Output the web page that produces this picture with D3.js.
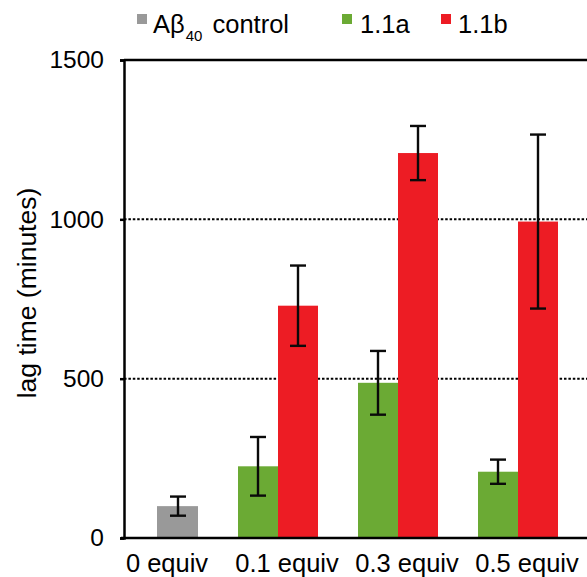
<!DOCTYPE html>
<html>
<head>
<meta charset="utf-8">
<script src="https://cdn.jsdelivr.net/npm/d3@7"></script>
<style>
  html, body { margin: 0; padding: 0; background: #fff; }
  svg { display: block; font-family: "Liberation Sans", Arial, Helvetica, sans-serif; }
</style>
</head>
<body>
<svg id="chart" width="587" height="577"></svg>
<script>
// Lag time of Aβ40 aggregation with increasing equivalents of 1.1a / 1.1b
const categories = ["0 equiv", "0.1 equiv", "0.3 equiv", "0.5 equiv"];
const controlMean = [100, null, null, null];
const controlErr  = [30, null, null, null];
const seriesAMean = [null, 225, 487, 208];
const seriesAErr  = [null, 92, 100, 38];
const seriesBMean = [null, 729, 1208, 993];
const seriesBErr  = [null, 126, 85, 273];
const yTicks = [0, 500, 1000, 1500];
const gridValues = [500, 1000];

const colors = { control: "#999999", a: "#6BAA34", b: "#ED1C24" };

const svg = d3.select("#chart");
const W = 587;

const y = d3.scaleLinear().domain([0, 1500]).range([538, 60]);
const x = d3.scaleBand().domain(categories).range([107, 587]).padding(0);
// two slots per group; the control bar occupies the second slot
const slot = d3.scaleBand().domain(["a", "b"]).range([11, 91]);

const axisX = 124;

// dotted gridlines
svg.append("g").selectAll("line").data(gridValues).join("line")
  .attr("x1", axisX).attr("x2", W)
  .attr("y1", d => y(d)).attr("y2", d => y(d))
  .attr("stroke", "#000").attr("stroke-width", 2)
  .attr("stroke-dasharray", "2.5,1.9");

// bars
const bars = [];
categories.forEach((c, i) => {
  if (controlMean[i] != null) bars.push({ cat: c, key: "b", v: controlMean[i], e: controlErr[i], color: colors.control, w: 1 });
  if (seriesAMean[i] != null) bars.push({ cat: c, key: "a", v: seriesAMean[i], e: seriesAErr[i], color: colors.a, w: 0 });
  if (seriesBMean[i] != null) bars.push({ cat: c, key: "b", v: seriesBMean[i], e: seriesBErr[i], color: colors.b, w: 0 });
});

svg.append("g").selectAll("rect").data(bars).join("rect")
  .attr("x", d => x(d.cat) + slot(d.key) - d.w)
  .attr("width", d => slot.bandwidth() + d.w)
  .attr("y", d => y(d.v))
  .attr("height", d => y(0) - y(d.v))
  .attr("fill", d => d.color);

// error bars
const eb = svg.append("g").attr("stroke", "#0a0a0a").attr("stroke-width", 2.4);
bars.forEach(d => {
  const cx = x(d.cat) + slot(d.key) + slot.bandwidth() / 2;
  const top = y(d.v + d.e), bot = y(d.v - d.e);
  eb.append("line").attr("x1", cx).attr("x2", cx).attr("y1", top).attr("y2", bot);
  eb.append("line").attr("x1", cx - 8).attr("x2", cx + 8).attr("y1", top).attr("y2", top);
  eb.append("line").attr("x1", cx - 8).attr("x2", cx + 8).attr("y1", bot).attr("y2", bot);
});

// frame: top border, left axis, baseline
svg.append("line").attr("x1", axisX).attr("x2", W).attr("y1", y(1500)).attr("y2", y(1500))
  .attr("stroke", "#000").attr("stroke-width", 2.5);
svg.append("line").attr("x1", 121).attr("x2", W).attr("y1", y(0)).attr("y2", y(0))
  .attr("stroke", "#000").attr("stroke-width", 2.5);

const yAxis = d3.axisLeft(y).tickValues(yTicks).tickSize(4).tickPadding(16).tickFormat(d3.format("d"));
const gy = svg.append("g").attr("transform", `translate(${axisX},0)`).call(yAxis);
gy.select(".domain").attr("stroke", "#000").attr("stroke-width", 2.5);
gy.selectAll(".tick line").attr("stroke", "#000").attr("stroke-width", 2.5);
gy.selectAll(".tick text").attr("font-size", 24.5).attr("fill", "#000")
  .attr("font-family", "Liberation Sans, Arial, sans-serif");

// category labels
svg.append("g").selectAll("text").data(categories).join("text")
  .attr("x", d => x(d) + x.bandwidth() / 2)
  .attr("y", 572)
  .attr("text-anchor", "middle")
  .attr("font-size", 25.5)
  .text(d => d);

// y-axis title
svg.append("text")
  .attr("transform", "translate(36,293) rotate(-90)")
  .attr("text-anchor", "middle")
  .attr("font-size", 26.5)
  .text("lag time (minutes)");

// legend
const legend = svg.append("g");
const legendItems = [
  { x: 137, color: colors.control },
  { x: 342, color: colors.a },
  { x: 441, color: colors.b }
];
legend.selectAll("rect").data(legendItems).join("rect")
  .attr("x", d => d.x).attr("y", 14).attr("width", 10).attr("height", 10)
  .attr("fill", d => d.color);

const t0 = legend.append("text").attr("x", 153).attr("y", 33).attr("font-size", 25.5);
t0.append("tspan").text("Aβ");
t0.append("tspan").attr("font-size", 15).attr("dx", 1).attr("dy", 8).text("40");
t0.append("tspan").attr("dx", 3).attr("dy", -8).text(" control");
legend.append("text").attr("x", 360).attr("y", 33).attr("font-size", 25.5).text("1.1a");
legend.append("text").attr("x", 458).attr("y", 33).attr("font-size", 25.5).text("1.1b");
</script>
</body>
</html>
